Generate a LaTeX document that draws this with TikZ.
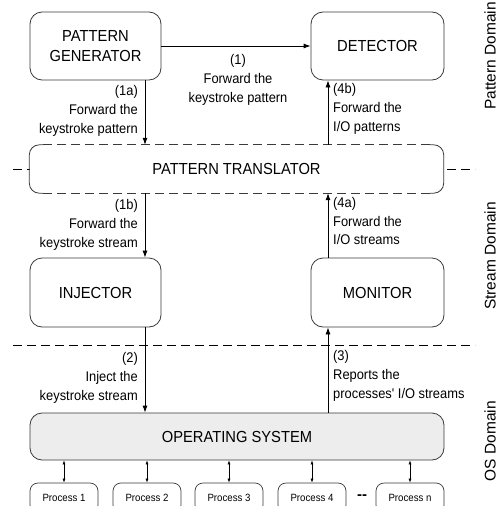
\documentclass[tikz,border=0pt]{standalone}
\usepackage{fontspec}
\setmainfont{Liberation Sans}
\newfontfamily\narrowsans[FakeStretch=0.92]{Liberation Sans}
\usetikzlibrary{arrows.meta}
\definecolor{osfill}{HTML}{EDEDED}
\definecolor{edge}{HTML}{3A3A3A}
\newcommand{\boxtext}{\narrowsans\fontsize{16}{20.5}\selectfont}
\newcommand{\lbltext}{\narrowsans\fontsize{14}{18.7}\selectfont}
\newcommand{\proctext}{\narrowsans\fontsize{10.5}{12}\selectfont}
\begin{document}
\begin{tikzpicture}[x=1pt,y=-1pt,
  block/.style={draw=edge,line width=0.8pt,rounded corners=12pt,fill=white,
    align=center,font=\boxtext,inner sep=0pt},
  procbox/.style={draw=edge,line width=0.7pt,rounded corners=8pt,fill=white,
    minimum width=68pt,minimum height=30pt,inner sep=0pt,font=\proctext},
  flow/.style={line width=0.8pt,-{Latex[length=7pt,width=5pt]}},
  link/.style={line width=0.6pt,{Latex[length=4pt,width=3pt]}-{Latex[length=4pt,width=3pt]}},
  sep/.style={line width=0.8pt,dash pattern=on 9pt off 5pt},
  lbl/.style={font=\lbltext,inner sep=0pt},
  domainname/.style={font=\fontsize{15.5}{17}\selectfont,rotate=90,inner sep=0pt}]
\useasboundingbox (0,0) rectangle (501,506);
\clip (0,0) rectangle (501,506);

% domain separators
\draw[sep] (13,169) -- (475,169);
\draw[sep] (13,345) -- (475,345);

% x positions of the vertical connectors
\coordinate (xl) at (145,0);
\coordinate (xr) at (328,0);

% pattern domain
\node[block,minimum width=131pt,minimum height=68pt] (gen) at (95.5,46) {PATTERN\\GENERATOR};
\node[block,minimum width=133pt,minimum height=68pt] (det) at (377.5,46) {DETECTOR};

% pattern translator: dashed top and bottom, solid sides
\node[minimum width=414pt,minimum height=48pt,inner sep=0pt,fill=white,font=\boxtext] (tr) at (236.5,169) {PATTERN TRANSLATOR};
\draw[edge,line width=0.8pt,rounded corners=10pt]
  ([xshift=14pt]tr.north west) -- (tr.north west) -- (tr.south west) -- ([xshift=14pt]tr.south west);
\draw[edge,line width=0.8pt,rounded corners=10pt]
  ([xshift=-14pt]tr.north east) -- (tr.north east) -- (tr.south east) -- ([xshift=-14pt]tr.south east);
\draw[edge,sep] ([xshift=14pt]tr.north west) -- ([xshift=-14pt]tr.north east);
\draw[edge,sep] ([xshift=14pt]tr.south west) -- ([xshift=-14pt]tr.south east);

% stream domain
\node[block,minimum width=131pt,minimum height=69pt] (inj) at (95.5,292.5) {INJECTOR};
\node[block,minimum width=133pt,minimum height=69pt] (mon) at (377.5,292.5) {MONITOR};

% OS domain
\node[block,fill=osfill,minimum width=414pt,minimum height=47pt] (os) at (237,436.5) {OPERATING SYSTEM};

\node[procbox] (p1) at (64,498) {Process 1};
\node[procbox] (p2) at (147,498) {Process 2};
\node[procbox] (p3) at (229,498) {Process 3};
\node[procbox] (p4) at (312,498) {Process 4};
\node[procbox] (pn) at (410,498) {Process n};
\node[font=\fontsize{15}{16}\selectfont\bfseries,inner sep=0pt] (dots) at (362,497) {-{}-};

\foreach \p in {p1,p2,p3,p4,pn}
  \draw[link] (os.south -| \p) -- (\p.north);

% data flow
\draw[flow] (gen.east) -- (det.west);
\draw[flow] (gen.south -| xl) -- (tr.north -| xl);
\draw[flow] (tr.south -| xl) -- (inj.north -| xl);
\draw[flow] (inj.south -| xl) -- (os.north -| xl);
\draw[flow] (os.north -| xr) -- (mon.south -| xr);
\draw[flow] (mon.north -| xr) -- (tr.south -| xr);
\draw[flow] (tr.north -| xr) -- (det.south -| xr);

% connector labels
\node[lbl,align=center] (l1) at (238,80) {(1)\\Forward the\\keystroke pattern};
\node[lbl,align=right,anchor=east] (l1a) at (138,111) {(1a)\\Forward the\\keystroke pattern};
\node[lbl,align=right,anchor=east] (l1b) at (138,225) {(1b)\\Forward the\\keystroke stream};
\node[lbl,align=right,anchor=east] (l2) at (138,378) {(2)\\Inject the\\keystroke stream};
\node[lbl,align=left,anchor=west] (l3) at (333,376) {(3)\\Reports the\\processes' I/O streams};
\node[lbl,align=left,anchor=west] (l4a) at (333,221) {(4a)\\Forward the\\I/O streams};
\node[lbl,align=left,anchor=west] (l4b) at (333,109) {(4b)\\Forward the\\I/O patterns};

% domain names
\node[domainname] (dp) at (490,56) {Pattern Domain};
\node[domainname] (ds) at (490,256) {Stream Domain};
\node[domainname] (dos) at (490,441) {OS Domain};
\end{tikzpicture}
\end{document}
